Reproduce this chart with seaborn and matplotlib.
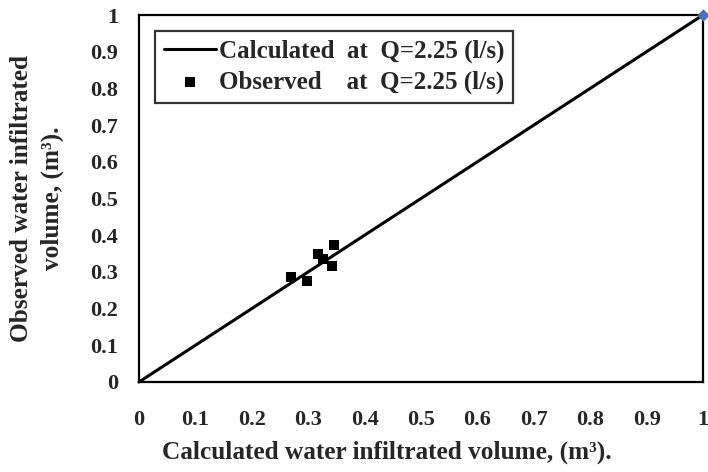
import matplotlib
matplotlib.use("Agg")
import matplotlib.pyplot as plt
import seaborn as sns
import pandas as pd

# Data
line_x = [0.0, 1.0]
line_y = [0.0, 1.0]
obs_x = [0.270, 0.298, 0.318, 0.327, 0.346, 0.343]
obs_y = [0.287, 0.276, 0.350, 0.335, 0.373, 0.316]
end_x = [1.0]
end_y = [1.0]
ticks = [0, 0.1, 0.2, 0.3, 0.4, 0.5, 0.6, 0.7, 0.8, 0.9, 1]
tick_labels = ["0", "0.1", "0.2", "0.3", "0.4", "0.5", "0.6", "0.7", "0.8", "0.9", "1"]

sns.set_style("white")
plt.rcParams['font.family'] = ['Liberation Serif', 'DejaVu Serif']
plt.rcParams['font.weight'] = 'bold'

fig = plt.figure(figsize=(7.08, 4.72), dpi=100)
ax = fig.add_axes([0.1963, 0.1907, 0.7966, 0.7775])

df_line = pd.DataFrame({"x": line_x, "y": line_y})
df_obs = pd.DataFrame({"x": obs_x, "y": obs_y})
df_end = pd.DataFrame({"x": end_x, "y": end_y})

sns.lineplot(data=df_line, x="x", y="y", ax=ax, color="black", linewidth=2.2,
             label="Calculated  at  Q=2.25 (l/s)", zorder=2, clip_on=False)
sns.scatterplot(data=df_obs, x="x", y="y", ax=ax, color="black", marker="s", s=60,
                edgecolor="black", linewidth=0, label="Observed    at  Q=2.25 (l/s)", zorder=3)
sns.scatterplot(data=df_end, x="x", y="y", ax=ax, color="#4472C4", marker="D", s=40,
                edgecolor="#4472C4", linewidth=0, zorder=4, clip_on=False)

ax.set_xlim(0, 1)
ax.set_ylim(0, 1)
ax.set_xticks(ticks)
ax.set_xticklabels(tick_labels)
ax.set_yticks(ticks)
ax.set_yticklabels(tick_labels)
ax.tick_params(axis='both', direction='in', length=4, width=0.8, color='#555555',
               labelsize=16)
ax.tick_params(axis='x', pad=20)
ax.tick_params(axis='y', pad=15)
for lbl in ax.get_xticklabels() + ax.get_yticklabels():
    lbl.set_fontweight('bold')

for sp in ax.spines.values():
    sp.set_visible(True)
    sp.set_color('black')
    sp.set_linewidth(1.6)

ax.set_xlabel("Calculated water infiltrated volume, (m³).", fontsize=18.2,
              fontweight='bold')
ax.xaxis.set_label_coords(0.44, -0.16)
ax.set_ylabel("Observed water infiltrated\nvolume, (m³).", fontsize=18.2,
              fontweight='bold', linespacing=1.4)
ax.yaxis.set_label_coords(-0.133, 0.5)

handles, labels = ax.get_legend_handles_labels()
leg = ax.legend(handles[:2], labels[:2], loc='upper left', bbox_to_anchor=(0.028, 0.957),
                frameon=True, fancybox=False, edgecolor='black',
                handlelength=2.1, handletextpad=0.1, borderpad=0.35, labelspacing=0.32,
                borderaxespad=0.0,
                prop={'weight': 'bold', 'size': 18, 'family': 'Liberation Serif'})
leg.get_frame().set_linewidth(1.6)

fig.savefig("out.png", dpi=100)
